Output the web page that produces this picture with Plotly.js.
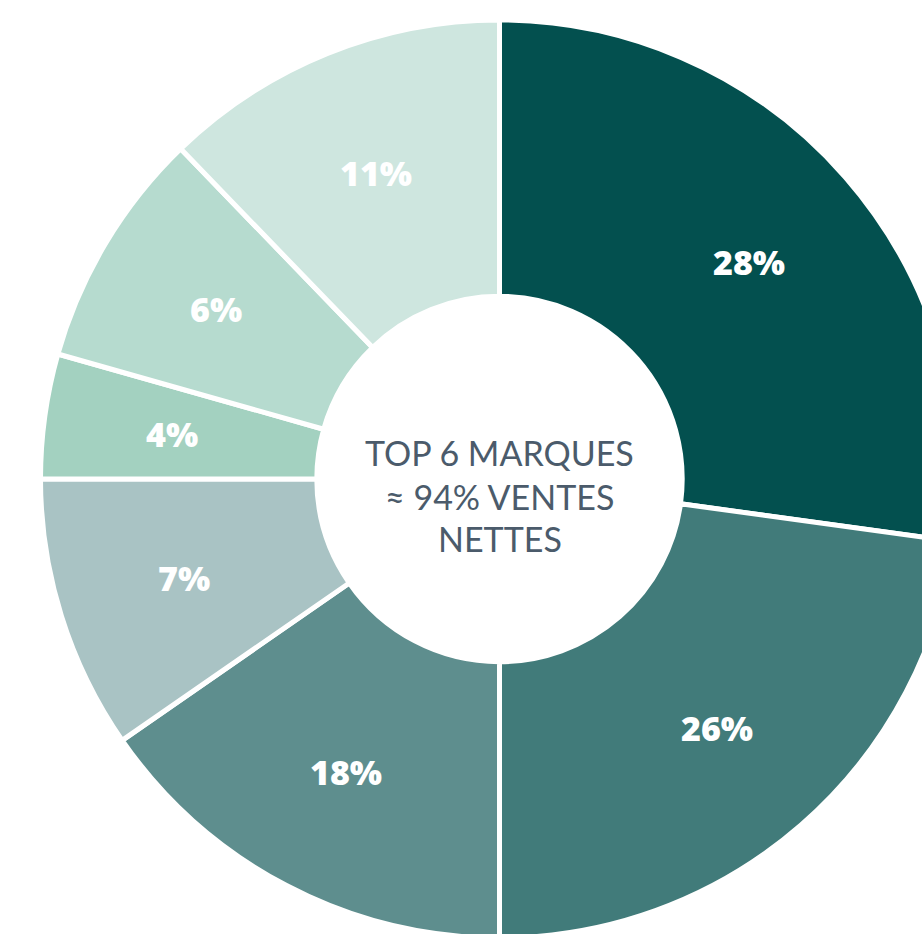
<!DOCTYPE html>
<html>
<head>
<meta charset="utf-8">
<script src="https://cdn.plot.ly/plotly-3.0.1.min.js"></script>
<style>
  html, body { margin: 0; padding: 0; background: #ffffff; overflow: hidden; width: 922px; height: 934px; }
  #chart { width: 1000px; height: 1000px; }
</style>
</head>
<body>
<div id="chart"></div>
<script>
// Slice sizes as drawn in the reference (share of the ring, %), clockwise from 12 o'clock
const sliceShares = [27.17, 22.83, 15.36, 9.64, 4.39, 8.39, 12.22];
// Percentages printed on the slices
const sliceLabels = ["28%", "26%", "18%", "7%", "4%", "6%", "11%"];
const sliceNames = ["Marque 1", "Marque 2", "Marque 3", "Marque 4", "Marque 5", "Marque 6", "Autres"];
const sliceColors = ["#03504f", "#417b7a", "#5e8e8e", "#a9c3c4", "#a3d1c0", "#b6dbcf", "#cee6df"];
const centerLines = ["TOP 6 MARQUES", "≈ 94% VENTES", "NETTES"];

const W = 1000, H = 1000;
const dom = { x: [0.0405, 0.9585], y: [0.062, 0.980] };
const holeFrac = 0.398;

const trace = {
  type: "pie",
  values: sliceShares,
  labels: sliceNames,
  text: sliceLabels,
  textinfo: "none",
  sort: false,
  direction: "clockwise",
  rotation: 0,
  hole: holeFrac,
  marker: { colors: sliceColors, line: { color: "#ffffff", width: 5 } },
  domain: dom,
  hoverinfo: "none",
  showlegend: false
};

// Slice labels placed at the middle of each slice's angle, mid-ring radius (derived from the data)
const cx = (dom.x[0] + dom.x[1]) / 2;
const cy = (dom.y[0] + dom.y[1]) / 2;
const Rpx = Math.min((dom.x[1] - dom.x[0]) * W, (dom.y[1] - dom.y[0]) * H) / 2;
const rLabel = Rpx * (holeFrac + 1) / 2 * 1.03;
const total = sliceShares.reduce((a, b) => a + b, 0);
let cum = 0;
const labelAnns = sliceShares.map((v, i) => {
  const mid = (cum + v / 2) / total * 2 * Math.PI;
  cum += v;
  return {
    text: sliceLabels[i],
    x: cx + rLabel * Math.sin(mid) / W,
    y: cy + rLabel * Math.cos(mid) / H,
    xref: "paper", yref: "paper",
    xanchor: "center", yanchor: "middle",
    showarrow: false,
    font: { family: "'Open Sans', sans-serif", size: 34, color: "#ffffff", weight: 800 }
  };
});

const lineY = [0.547, 0.5035, 0.462];
const centerAnns = centerLines.map((t, i) => ({
  text: t,
  x: 0.4995, y: lineY[i],
  xref: "paper", yref: "paper",
  xanchor: "center", yanchor: "middle",
  showarrow: false,
  font: { family: "Lato, sans-serif", size: 34, color: "#4b5b6b", weight: 400 }
}));

const layout = {
  width: W, height: H,
  margin: { l: 0, r: 0, t: 0, b: 0, pad: 0 },
  paper_bgcolor: "#ffffff",
  plot_bgcolor: "#ffffff",
  showlegend: false,
  annotations: labelAnns.concat(centerAnns)
};

Plotly.newPlot("chart", [trace], layout, { staticPlot: true, displayModeBar: false });
</script>
</body>
</html>
